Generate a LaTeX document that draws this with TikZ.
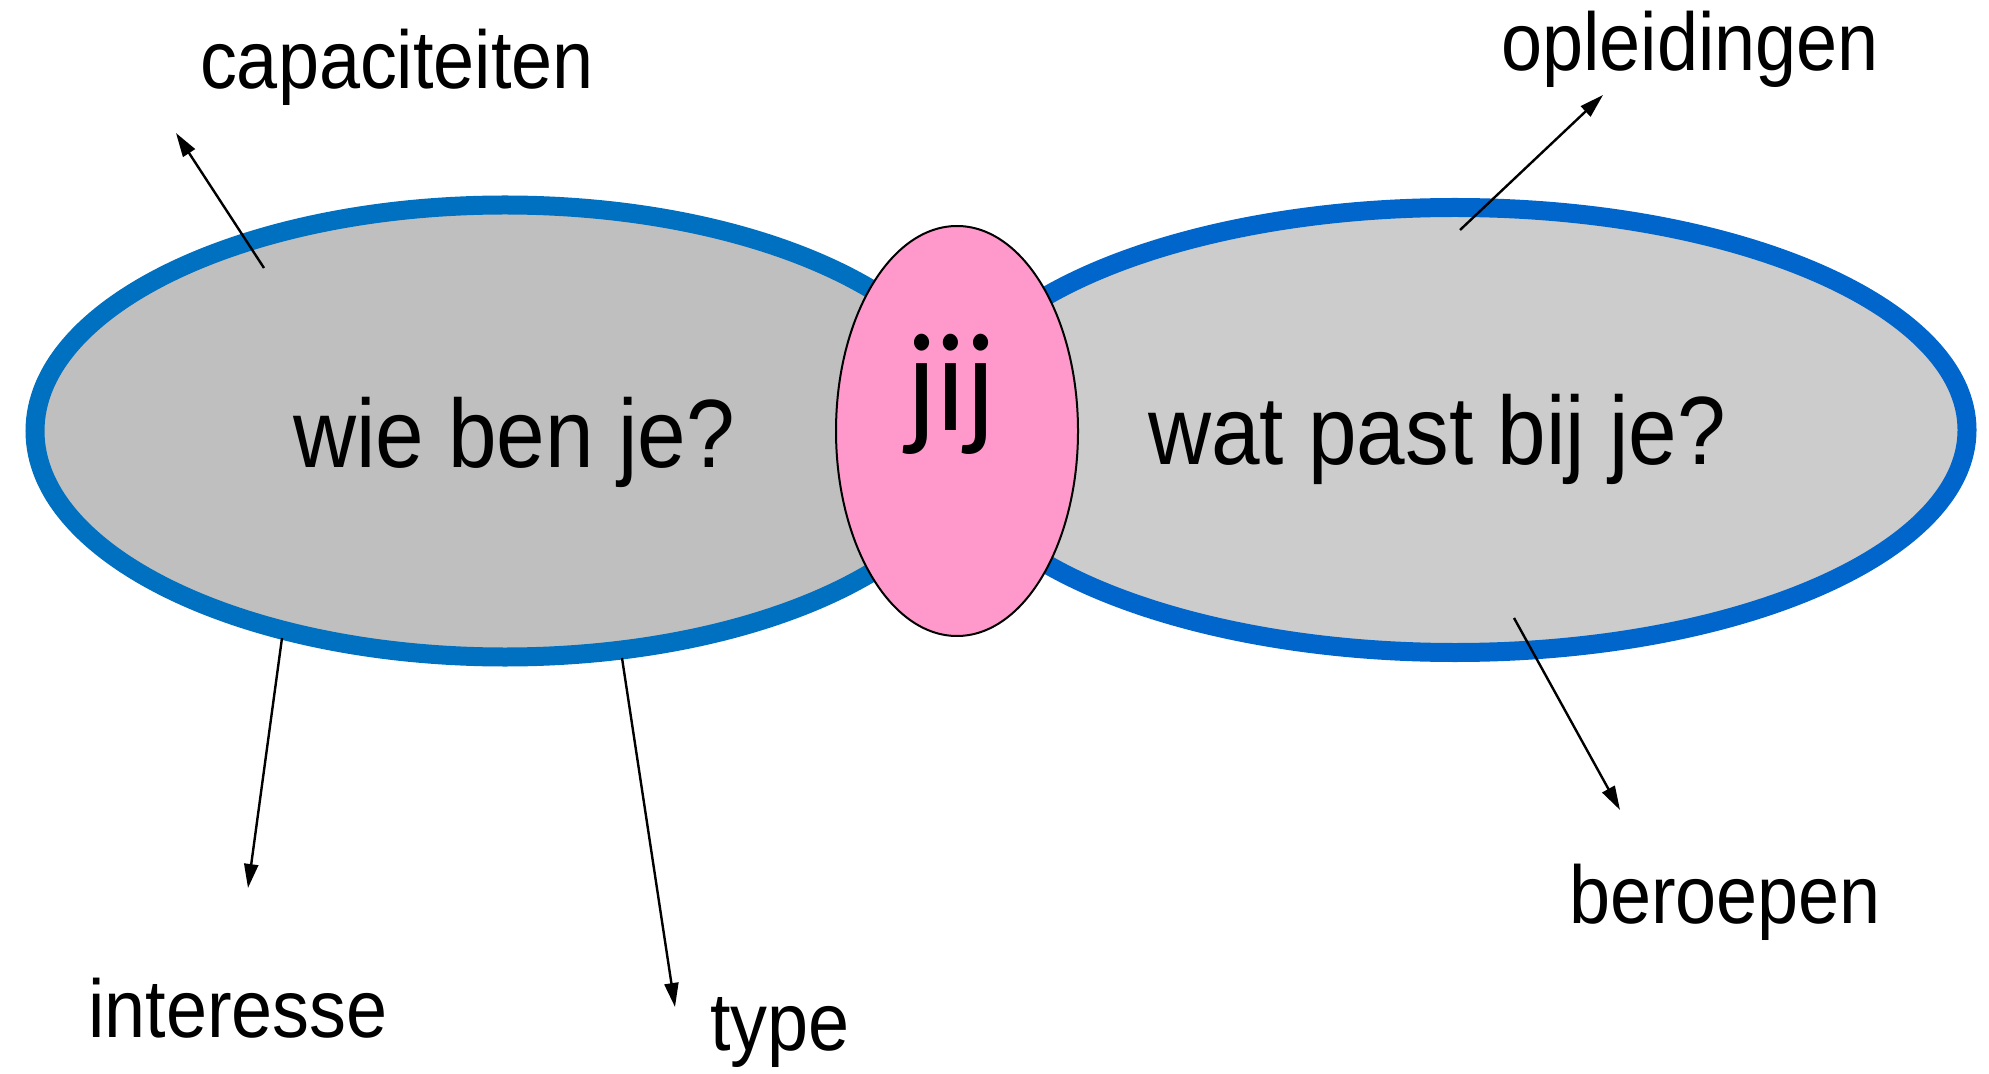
\documentclass[tikz,border=0pt]{standalone}
\usepackage{fontspec}
\setmainfont{Liberation Sans}[FakeStretch=0.9]
\newfontfamily\jijfont{Carlito}[FakeStretch=0.9]
\usetikzlibrary{shapes.geometric,arrows.meta}

\definecolor{wieblue}{RGB}{0,112,192}
\definecolor{watblue}{RGB}{0,102,204}
\definecolor{wiegray}{RGB}{191,191,191}
\definecolor{watgray}{RGB}{204,204,204}
\definecolor{jijpink}{RGB}{255,153,204}

\tikzset{
  blob/.style={ellipse,draw,line width=9.5pt,inner sep=0pt,outer sep=0pt},
  question/.style={anchor=base,inner sep=0pt,font=\fontsize{48.5}{58}\selectfont},
  topic/.style={anchor=base,inner sep=0pt,font=\fontsize{41}{49}\selectfont},
  pointer/.style={-{Triangle[length=12pt,width=7pt]},line width=1.2pt},
}

\begin{document}
\begin{tikzpicture}[x=0.5pt,y=-0.5pt]
  \useasboundingbox (0,0) rectangle (1989,1074);
  \node[blob,draw=wieblue,fill=wiegray,minimum width=470pt,minimum height=226pt](wie) at (505,431){};
  \node[blob,draw=watblue,fill=watgray,minimum width=512pt,minimum height=222.5pt](wat) at (1455,430){};
  \node[ellipse,draw,line width=1pt,fill=jijpink,inner sep=0pt,minimum width=121pt,minimum height=205pt](jij) at (957,431){};

  \node[question](wieq) at (514,467){wie ben je?};
  \node[question](watq) at (1437,465){wat past bij je?};
  \node[anchor=base,inner sep=0pt,font=\jijfont\fontsize{70}{84}\selectfont](jijq) at (951,430){jij};

  \node[topic](capa) at (397,89){capaciteiten};
  \node[topic](opl) at (1690,71){opleidingen};
  \node[topic](inter) at (238,1037){interesse};
  \node[topic](typ) at (780,1050){type};
  \node[topic](ber) at (1725,923){beroepen};

  \coordinate (capa0) at (264,268);  \coordinate (capa1) at (176,133);
  \coordinate (opl0) at (1460,230);  \coordinate (opl1) at (1603,95);
  \coordinate (inter0) at (282,638); \coordinate (inter1) at (248,888);
  \coordinate (typ0) at (622,658);   \coordinate (typ1) at (675,1007);
  \coordinate (ber0) at (1514,618);  \coordinate (ber1) at (1620,810);
  \path[pointer]
    (capa0) edge (capa1)
    (opl0) edge (opl1)
    (inter0) edge (inter1)
    (typ0) edge (typ1)
    (ber0) edge (ber1)
  ;
\end{tikzpicture}
\end{document}
